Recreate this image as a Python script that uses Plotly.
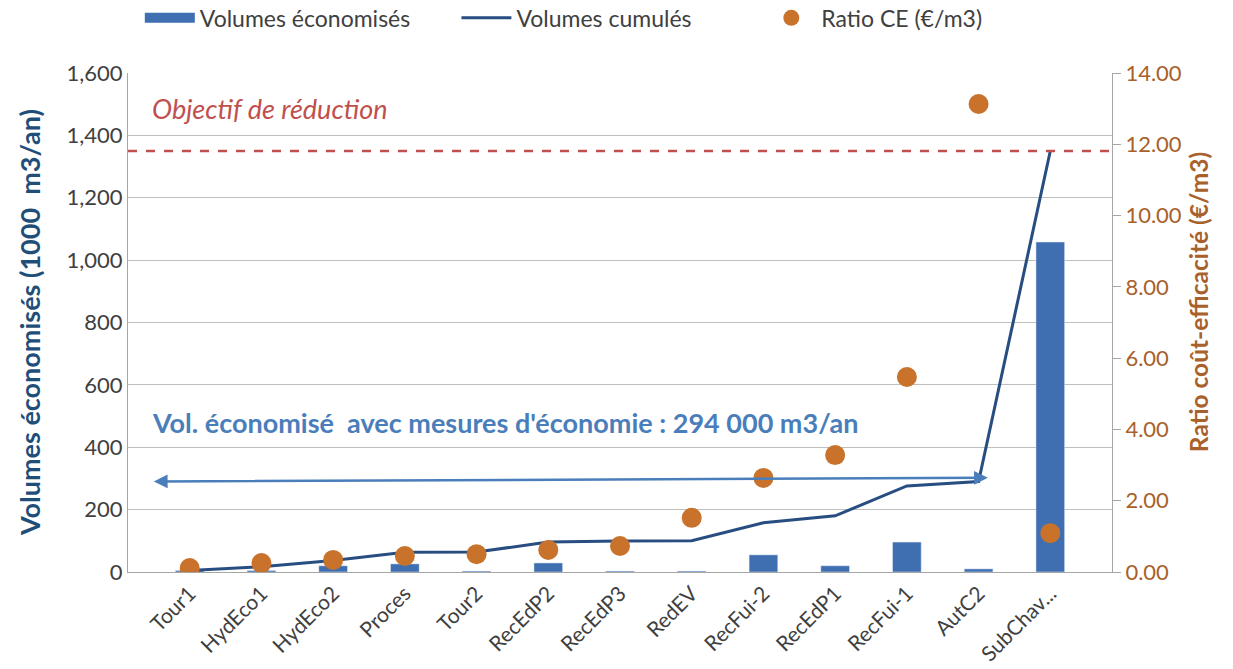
import plotly.graph_objects as go

categories = ["Tour1", "HydEco1", "HydEco2", "Proces", "Tour2", "RecEdP2", "RecEdP3",
              "RedEV", "RecFui-2", "RecEdP1", "RecFui-1", "AutC2", "SubChav..."]
volumes = [5, 5, 20, 26, 3, 29, 3, 3, 55, 20, 96, 10, 1058]
cumulative = [5, 17, 37, 63, 64, 96, 99, 100, 158, 180, 276, 290, 1350]
ratio_ce = [0.11, 0.25, 0.34, 0.45, 0.50, 0.62, 0.73, 1.52, 2.64, 3.28, 5.47, 13.13, 1.09]
objective = 1350
saved_total = 294

FONT = "Lato, Calibri, sans-serif"
BLUE_BAR = "#3f6fb0"
NAVY = "#284d80"
ORANGE = "#c8722c"
BROWN = "#a8612a"
RED = "#c0504d"
PAD = "\u00a0"  # spacing between legend entries

fig = go.Figure()
fig.add_trace(go.Bar(x=categories, y=volumes, name="Volumes économisés",
                     marker_color=BLUE_BAR, width=0.4, showlegend=False,
                     legendgroup="vol"))
# legend entry drawn as a wide block, like the original
fig.add_trace(go.Scatter(x=[None], y=[None], name="Volumes économisés" + PAD * 7,
                         mode="lines", line=dict(color=BLUE_BAR, width=15),
                         legendgroup="vol"))
fig.add_trace(go.Scatter(x=categories, y=cumulative, name="Volumes cumulés" + PAD * 11,
                         mode="lines", line=dict(color=NAVY, width=3)))
fig.add_trace(go.Scatter(x=categories, y=ratio_ce, name="Ratio CE (€/m3)", mode="markers",
                         marker=dict(color=ORANGE, size=20), yaxis="y2"))

fig.add_shape(type="line", xref="paper", yref="y", x0=0, x1=1, y0=objective, y1=objective,
              line=dict(color=RED, width=2.5, dash="dash"))

annotations = [
    dict(x=0.022, y=1485, xref="paper", yref="y", text="<i>Objectif de réduction</i>",
         showarrow=False, xanchor="left", font=dict(family=FONT, size=27, color=RED)),
    dict(x=0.022, y=480, xref="paper", yref="y", xanchor="left", showarrow=False,
         text="<b>Vol. économisé  avec mesures d'économie : 294 000 m3/an</b>",
         font=dict(family=FONT, size=27, color="#4a7ebb")),
    dict(x=-0.5, y=saved_total - 4, ax=11.15, ay=saved_total + 8, xref="x", yref="y",
         axref="x", ayref="y", text="", showarrow=True, arrowhead=2, arrowside="end+start",
         arrowsize=1.1, arrowwidth=2.5, arrowcolor="#4a7ebb"),
    # axis titles placed as in the original
    dict(x=-0.1, y=0.5, xref="paper", yref="paper", textangle=-90, showarrow=False,
         xanchor="center", yanchor="middle",
         text="<b>Volumes économisés (1000  m3/an)</b>",
         font=dict(family=FONT, size=27, color="#1f4e79")),
    dict(x=1.088, y=0.54, xref="paper", yref="paper", textangle=-90, showarrow=False,
         xanchor="center", yanchor="middle",
         text="<b>Ratio coût-efficacité (€/m3)</b>",
         font=dict(family=FONT, size=24.5, color=BROWN)),
]

fig.update_layout(
    width=1225, height=661,
    margin=dict(l=120, r=121, t=65, b=97, autoexpand=False),
    plot_bgcolor="white", paper_bgcolor="white",
    font=dict(family=FONT, size=20, color="#404040"),
    showlegend=True,
    legend=dict(orientation="h", x=0.012, xanchor="left", y=0.985, yanchor="middle",
                yref="container", font=dict(size=23, color="#404040"), itemwidth=50,
                tracegroupgap=0),
    bargap=0.6,
    annotations=annotations,
    xaxis=dict(tickangle=-45, showline=True, linecolor="#a6a6a6", linewidth=1,
               tickfont=dict(size=21, color="#404040"), showgrid=False),
    yaxis=dict(range=[0, 1600], dtick=200, tickformat=",", showgrid=True,
               gridcolor="#bfbfbf", gridwidth=1, showline=True, linecolor="#a6a6a6",
               zeroline=False, ticks="", tickfont=dict(size=22, color="#404040")),
    yaxis2=dict(range=[0, 14], dtick=2, tickformat=".2f", overlaying="y", side="right",
                showgrid=False, showline=True, linecolor="#a6a6a6", ticks="outside",
                ticklen=8, tickcolor="#a6a6a6", zeroline=False,
                tickfont=dict(size=22, color=BROWN)),
)

fig.write_html("out.html")
